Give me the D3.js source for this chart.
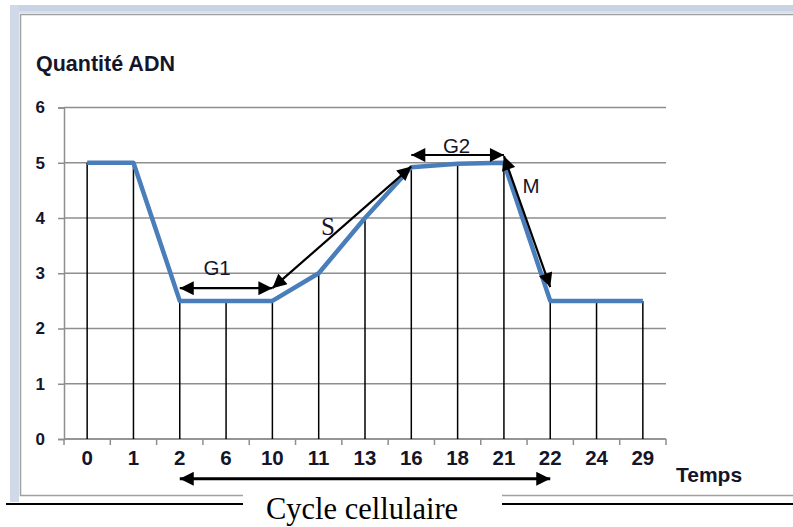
<!DOCTYPE html>
<html>
<head>
<meta charset="utf-8">
<script src="https://cdn.jsdelivr.net/npm/d3@7/dist/d3.min.js"></script>
<style>
  html, body { margin: 0; padding: 0; background: #fff; }
  svg { display: block; }
</style>
</head>
<body>
<svg id="chart" width="793" height="527"></svg>
<script>
// Time points (categorical x axis) and DNA quantity at each point
const temps = ["0", "1", "2", "6", "10", "11", "13", "16", "18", "21", "22", "24", "29"];
const quantite = [5, 5, 2.5, 2.5, 2.5, 3, 4, 4.92, 4.98, 5, 2.5, 2.5, 2.5];
const yTicks = [0, 1, 2, 3, 4, 5, 6];

// Phase arrows: [category, value] endpoints
const phaseNames = ["G1", "S", "G2", "M"];
const phaseFrom = [["2", 2.73], ["10", 2.73], ["16", 5.14], ["21", 5.12]];
const phaseTo = [["10", 2.73], ["16", 4.93], ["21", 5.14], ["22", 2.75]];
// Whole-cycle arrow below the axis
const cycleFrom = ["2", -0.72];
const cycleTo = ["22", -0.72];

const svg = d3.select("#chart");
const W = 793, H = 527;
const plot = { left: 64, right: 666, top: 107.5, bottom: 439 };

const x = d3.scaleBand().domain(temps).range([plot.left, plot.right]).padding(0);
const y = d3.scaleLinear().domain([0, 6]).range([plot.bottom, plot.top]);
const cx = c => x(c) + x.bandwidth() / 2;

const textColor = "#15152a";
const sans = "'Liberation Sans', Arial, sans-serif";
const serif = "'Liberation Serif', 'Times New Roman', serif";

// ---- outer frame ----
svg.append("rect").attr("x", 10).attr("y", 5).attr("width", W - 10).attr("height", 8).attr("fill", "#c9d3e3");
svg.append("rect").attr("x", 10).attr("y", 5).attr("width", 9).attr("height", 497).attr("fill", "#cfd9e8");
svg.append("path")
  .attr("d", `M${W},14.5 H20.5 V495.5 H243 M502,495.5 H${W}`)
  .attr("fill", "none").attr("stroke", "#a0a0a0").attr("stroke-width", 1.5);
svg.append("path")
  .attr("d", `M${W},12 H19`)
  .attr("fill", "none").attr("stroke", "#e8ecf3").attr("stroke-width", 1);
svg.append("path")
  .attr("d", `M6,504 H243 M502,504 H${W}`)
  .attr("fill", "none").attr("stroke", "#000").attr("stroke-width", 2.2);

// ---- horizontal gridlines ----
svg.append("g")
  .selectAll("line").data(yTicks).join("line")
  .attr("x1", plot.left).attr("x2", plot.right)
  .attr("y1", d => y(d)).attr("y2", d => y(d))
  .attr("stroke", "#8e8e8e").attr("stroke-width", 1.5);

// ---- y axis ----
const yAxis = svg.append("g")
  .attr("transform", `translate(${plot.left},0)`)
  .call(d3.axisLeft(y).tickValues(yTicks).tickSize(6).tickPadding(13).tickFormat(d3.format("d")));
yAxis.select(".domain").attr("stroke", "#8e8e8e").attr("stroke-width", 1.5);
yAxis.selectAll(".tick line").attr("stroke", "#8e8e8e").attr("stroke-width", 1.5);
yAxis.selectAll("text")
  .attr("font-family", sans).attr("font-weight", "bold").attr("font-size", 17)
  .attr("fill", textColor);

// ---- x axis: ticks on band boundaries, labels at band centres ----
const xAxisG = svg.append("g").attr("transform", `translate(0,${plot.bottom})`);
xAxisG.append("line")
  .attr("x1", plot.left).attr("x2", plot.right)
  .attr("stroke", "#8e8e8e").attr("stroke-width", 1.5);
const bounds = temps.map(t => x(t)).concat([plot.right]);
xAxisG.selectAll("line.tk").data(bounds).join("line").attr("class", "tk")
  .attr("x1", d => d).attr("x2", d => d).attr("y1", 0).attr("y2", 6)
  .attr("stroke", "#8e8e8e").attr("stroke-width", 1.5);
xAxisG.selectAll("text").data(temps).join("text")
  .attr("x", d => cx(d)).attr("y", 11).attr("dy", "0.72em")
  .attr("text-anchor", "middle")
  .attr("font-family", sans).attr("font-weight", "bold").attr("font-size", 20.5)
  .attr("fill", textColor)
  .text(d => d);

// ---- drop lines from each point to the axis ----
svg.append("g")
  .selectAll("line").data(temps).join("line")
  .attr("x1", d => cx(d)).attr("x2", d => cx(d))
  .attr("y1", (d, i) => y(quantite[i])).attr("y2", y(0))
  .attr("stroke", "#000").attr("stroke-width", 1.5);

// ---- DNA quantity line ----
const line = d3.line().x((d, i) => cx(temps[i])).y(d => y(d));
svg.append("path")
  .datum(quantite)
  .attr("d", line)
  .attr("fill", "none")
  .attr("stroke", "#4a7ebb")
  .attr("stroke-width", 4.5)
  .attr("stroke-linejoin", "round");

// ---- arrowheads ----
const defs = svg.append("defs");
["start", "end"].forEach(k => {
  defs.append("marker")
    .attr("id", "ah-" + k)
    .attr("viewBox", "0 0 10 10")
    .attr("refX", 10).attr("refY", 5)
    .attr("markerWidth", 16).attr("markerHeight", 14)
    .attr("markerUnits", "userSpaceOnUse")
    .attr("orient", k === "start" ? "auto-start-reverse" : "auto")
    .append("path").attr("d", "M0,0 L10,5 L0,10 Z").attr("fill", "#000");
});

function arrow(from, to, width) {
  svg.append("line")
    .attr("x1", cx(from[0])).attr("y1", y(from[1]))
    .attr("x2", cx(to[0])).attr("y2", y(to[1]))
    .attr("stroke", "#000").attr("stroke-width", width)
    .attr("marker-start", "url(#ah-start)")
    .attr("marker-end", "url(#ah-end)");
}

phaseNames.forEach((n, i) => arrow(phaseFrom[i], phaseTo[i], 2.2));
arrow(cycleFrom, cycleTo, 3);

// ---- phase labels ----
const mid = i => [(cx(phaseFrom[i][0]) + cx(phaseTo[i][0])) / 2, (y(phaseFrom[i][1]) + y(phaseTo[i][1])) / 2];
const labelOffsets = [[-9, -13], [-14, 8], [-1, -2], [4, -29]];
svg.append("g")
  .selectAll("text").data(phaseNames).join("text")
  .attr("x", (d, i) => mid(i)[0] + labelOffsets[i][0])
  .attr("y", (d, i) => mid(i)[1] + labelOffsets[i][1])
  .attr("text-anchor", "middle")
  .attr("font-family", (d) => d === "S" ? serif : sans)
  .attr("font-size", (d) => d === "S" ? 25 : 20.5)
  .attr("fill", textColor)
  .text(d => d);

// ---- titles ----
svg.append("text")
  .attr("x", 36).attr("y", 71)
  .attr("font-family", sans).attr("font-weight", "bold").attr("font-size", 21.5)
  .attr("fill", textColor)
  .text("Quantité ADN");

svg.append("text")
  .attr("x", 676).attr("y", 482)
  .attr("font-family", sans).attr("font-weight", "bold").attr("font-size", 21)
  .attr("fill", textColor)
  .text("Temps");

svg.append("text")
  .attr("x", 362).attr("y", 519)
  .attr("text-anchor", "middle")
  .attr("font-family", serif).attr("font-size", 30.5)
  .attr("fill", "#000")
  .text("Cycle cellulaire");
</script>
</body>
</html>
